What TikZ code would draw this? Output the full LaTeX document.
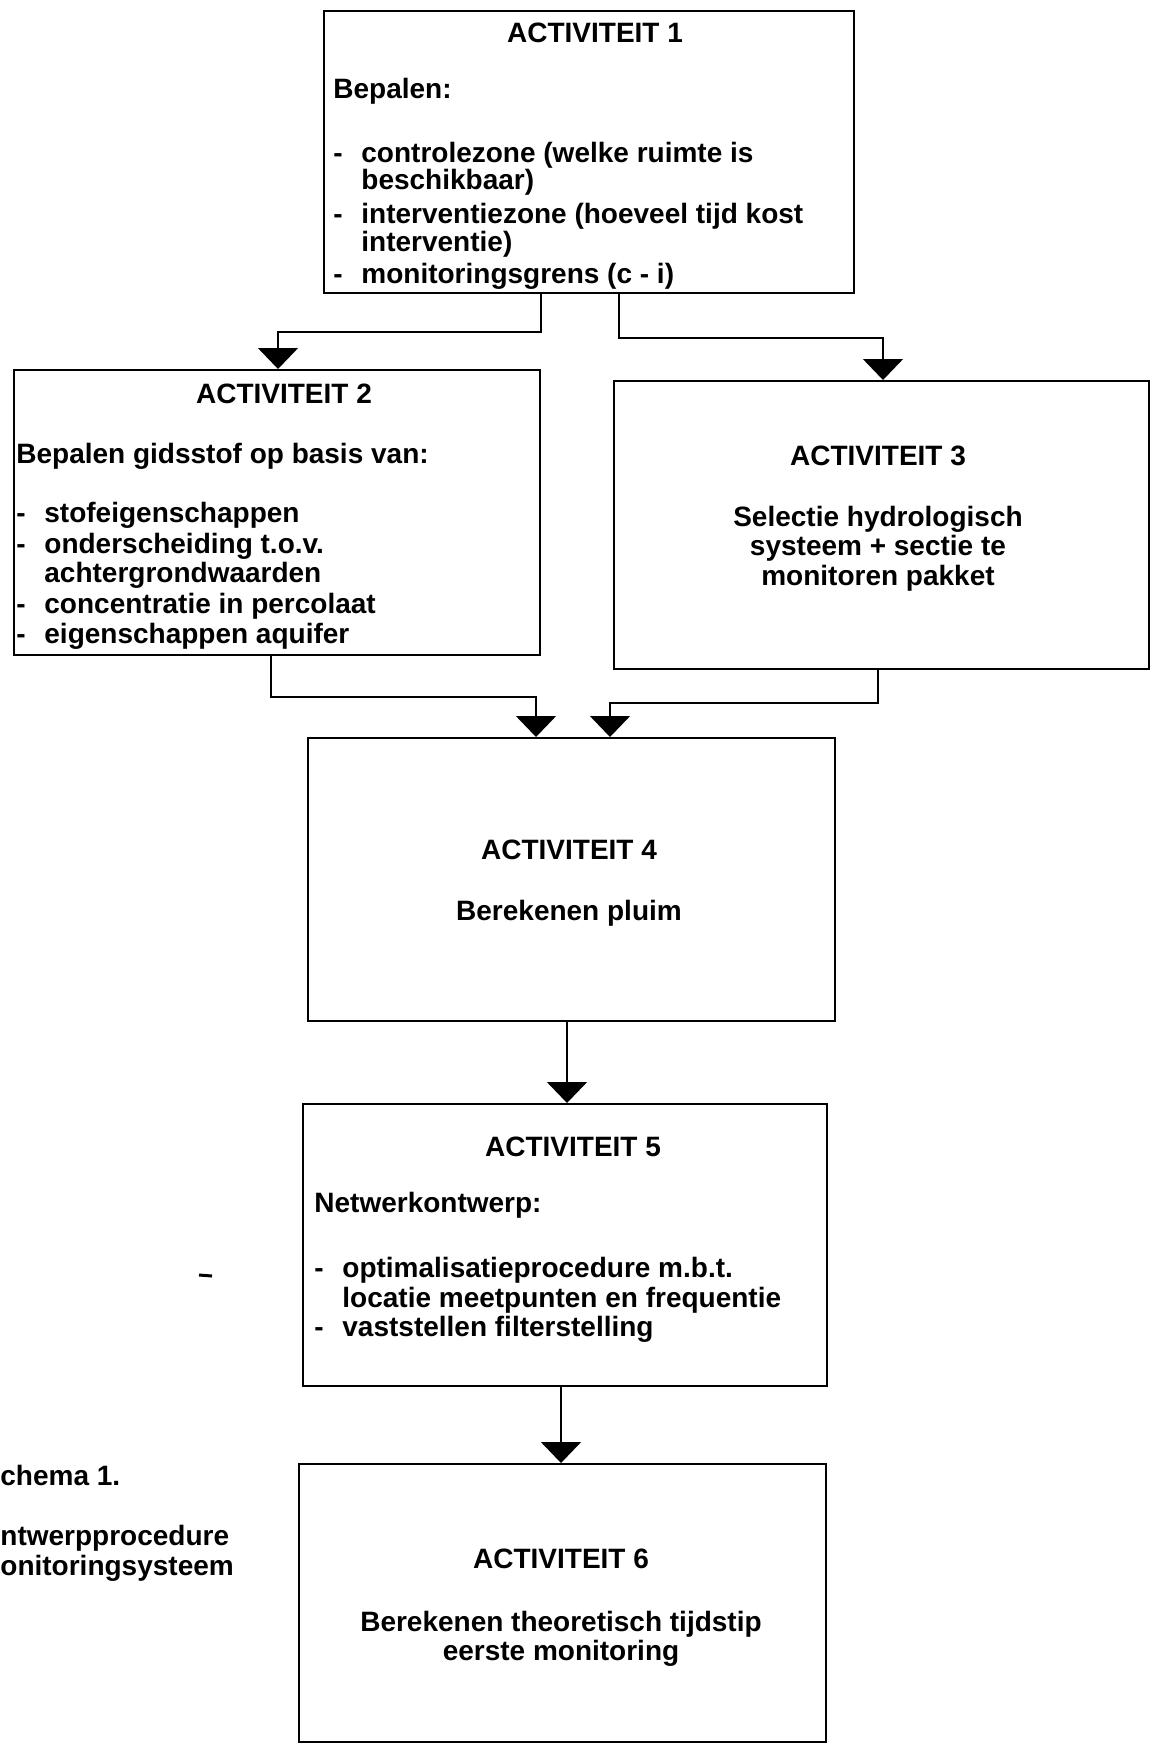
\documentclass[tikz,border=0pt]{standalone}
\usepackage{fontspec}
\setmainfont{Liberation Sans}
\usetikzlibrary{arrows.meta}
\begin{document}
\begin{tikzpicture}[x=0.5pt,y=-0.5pt,
  box/.style={draw,line width=1pt,inner sep=0pt,anchor=north west},
  txt/.style={inner sep=0pt,anchor=base west,font=\fontsize{14pt}{16pt}\selectfont\bfseries},
  ctxt/.style={inner sep=0pt,anchor=base,font=\fontsize{14pt}{16pt}\selectfont\bfseries},
  conn/.style={line width=0.8pt,-{Triangle[width=20pt,length=10.5pt]}},
  link/.style={line width=0.8pt}]
\useasboundingbox (0,0) rectangle (1152,1744);
\fill[white] (0,0) rectangle (1152,1744);

% boxes
\node[box,minimum width=265pt,minimum height=141pt] (b1) at (323,10) {};
\node[box,minimum width=263pt,minimum height=142.5pt] (b2) at (13,369) {};
\node[box,minimum width=267.5pt,minimum height=144pt] (b3) at (613,380) {};
\node[box,minimum width=263.5pt,minimum height=141.5pt] (b4) at (307,737) {};
\node[box,minimum width=262pt,minimum height=141pt] (b5) at (302,1103) {};
\node[box,minimum width=263.5pt,minimum height=139pt] (b6) at (298,1463) {};

% box 1 text
\node[ctxt] (t1a) at (595,43) {ACTIVITEIT 1};
\node[txt] (t1b) at (333,99) {Bepalen:};
\node[txt] (t1c) at (333,163) {-};
\node[txt] (t1d) at (361,163) {controlezone (welke ruimte is};
\node[txt] (t1e) at (361,190) {beschikbaar)};
\node[txt] (t1f) at (333,224) {-};
\node[txt] (t1g) at (361,224) {interventiezone (hoeveel tijd kost};
\node[txt] (t1h) at (361,251) {interventie)};
\node[txt] (t1i) at (333,283) {-};
\node[txt] (t1j) at (361,283) {monitoringsgrens (c - i)};

% box 2 text
\node[ctxt] (t2a) at (284,403) {ACTIVITEIT 2};
\node[txt] (t2b) at (16,463) {Bepalen gidsstof op basis van:};
\node[txt] (t2c) at (16,522) {-};
\node[txt] (t2d) at (44,522) {stofeigenschappen};
\node[txt] (t2e) at (16,553) {-};
\node[txt] (t2f) at (44,553) {onderscheiding t.o.v.};
\node[txt] (t2g) at (44,582) {achtergrondwaarden};
\node[txt] (t2h) at (16,613) {-};
\node[txt] (t2i) at (44,613) {concentratie in percolaat};
\node[txt] (t2j) at (16,643) {-};
\node[txt] (t2k) at (44,643) {eigenschappen aquifer};

% box 3 text
\node[ctxt] (t3a) at (878,465) {ACTIVITEIT 3};
\node[ctxt] (t3b) at (878,526) {Selectie hydrologisch};
\node[ctxt] (t3c) at (878,555) {systeem + sectie te};
\node[ctxt] (t3d) at (878,585) {monitoren pakket};

% box 4 text
\node[ctxt] (t4a) at (569,859) {ACTIVITEIT 4};
\node[ctxt] (t4b) at (569,920) {Berekenen pluim};

% box 5 text
\node[ctxt] (t5a) at (573,1156) {ACTIVITEIT 5};
\node[txt] (t5b) at (314,1212) {Netwerkontwerp:};
\node[txt] (t5c) at (314,1277) {-};
\node[txt] (t5d) at (342,1277) {optimalisatieprocedure m.b.t.};
\node[txt] (t5e) at (342,1307) {locatie meetpunten en frequentie};
\node[txt] (t5f) at (314,1336) {-};
\node[txt] (t5g) at (342,1336) {vaststellen filterstelling};

% box 6 text
\node[ctxt] (t6a) at (561,1568) {ACTIVITEIT 6};
\node[ctxt] (t6b) at (561,1631) {Berekenen theoretisch tijdstip};
\node[ctxt] (t6c) at (561,1660) {eerste monitoring};

% caption
\node[txt] (c1) at (0,1485) {chema 1.};
\node[txt] (c2) at (0,1545) {ntwerpprocedure};
\node[txt] (c3) at (0,1575) {onitoringsysteem};

% connectors
\coordinate (k1) at (541,332);
\coordinate (k2) at (278,332);
\coordinate (k3) at (619,338);
\coordinate (k4) at (883,338);
\coordinate (k5) at (271,697);
\coordinate (k6) at (536,697);
\coordinate (k7) at (878,703);
\coordinate (k8) at (610,703);
\coordinate (k9) at (567,0);
\coordinate (k10) at (561,0);

\draw[conn] (b1.south -| k1) -- (k1) -- (k2) -- (b2.north -| k2);
\draw[conn] (b1.south -| k3) -- (k3) -- (k4) -- (b3.north -| k4);
\draw[conn] (b2.south -| k5) -- (k5) -- (k6) -- (b4.north -| k6);
\draw[conn] (b3.south -| k7) -- (k7) -- (k8) -- (b4.north -| k8);
\draw[conn] (b4.south -| k9) -- (b5.north -| k9);
\draw[conn] (b5.south -| k10) -- (b6.north -| k10);

% stray mark
\draw[line width=1.5pt] (199,1275) -- (212,1276);
\end{tikzpicture}
\end{document}
